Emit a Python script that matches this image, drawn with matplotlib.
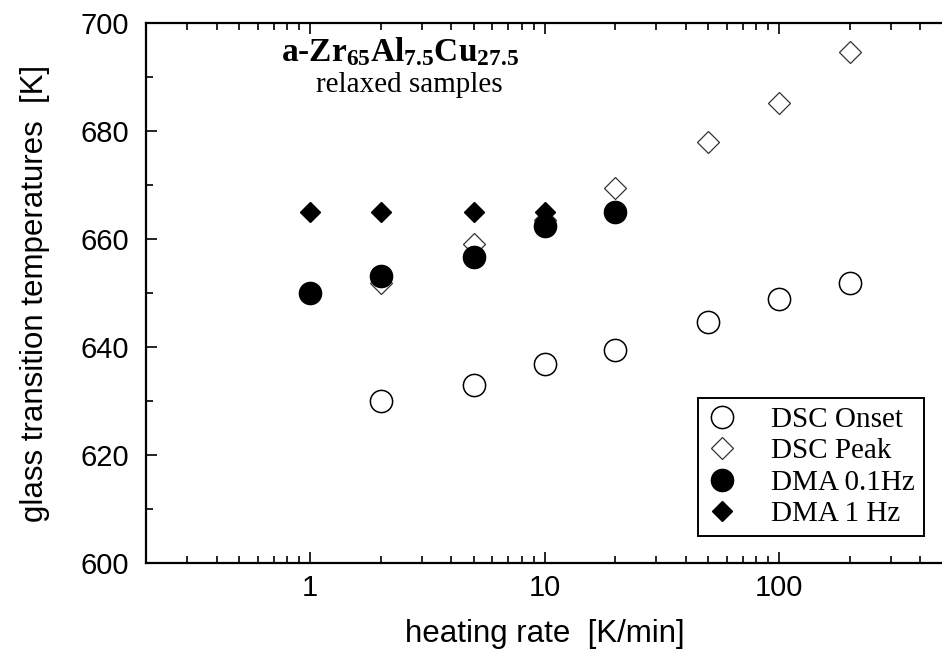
import matplotlib
matplotlib.use("Agg")
import matplotlib.pyplot as plt
from matplotlib.ticker import FixedLocator, LogLocator, NullFormatter, FixedFormatter

# ---- data ----
rate_onset = [2, 5, 10, 20, 50, 100, 200]
dsc_onset = [630.0, 633.0, 636.8, 639.4, 644.6, 648.8, 651.8]

rate_peak = [2, 5, 10, 20, 50, 100, 200]
dsc_peak = [651.8, 659.0, 663.5, 669.5, 678.0, 685.2, 694.6]

rate_dma01 = [1, 2, 5, 10, 20]
dma_01hz = [650.0, 653.2, 656.6, 662.4, 665.0]

rate_dma1 = [1, 2, 5, 10]
dma_1hz = [665.0, 665.0, 665.0, 665.0]

xticks = [1, 10, 100]
xticklabels = ["1", "10", "100"]
yticks = [600, 620, 640, 660, 680, 700]

plt.rcParams['font.family'] = ['Liberation Sans', 'DejaVu Sans']
plt.rcParams['mathtext.fontset'] = 'custom'
plt.rcParams['mathtext.default'] = 'regular'
plt.rcParams['mathtext.rm'] = 'Liberation Serif:bold'
plt.rcParams['mathtext.bf'] = 'Liberation Serif:bold'

fig = plt.figure(figsize=(9.42, 6.57), dpi=100)
W, H = 942, 657
ax = fig.add_axes([146 / W, (H - 563) / H, (943 - 146) / W, (563 - 23) / H])

ax.plot(rate_onset, dsc_onset, linestyle='none', marker='o', markersize=16,
        markerfacecolor='white', markeredgecolor='black', markeredgewidth=1.1,
        label='DSC Onset')
ax.plot(rate_peak, dsc_peak, linestyle='none', marker='D', markersize=11,
        markerfacecolor='white', markeredgecolor='#333333', markeredgewidth=0.9,
        label='DSC Peak')
ax.plot(rate_dma01, dma_01hz, linestyle='none', marker='o', markersize=16,
        markerfacecolor='black', markeredgecolor='black',
        label='DMA 0.1Hz')
ax.plot(rate_dma1, dma_1hz, linestyle='none', marker='D', markersize=10.5,
        markerfacecolor='black', markeredgecolor='black',
        label='DMA 1 Hz')

ax.set_xscale('log')
ax.set_xlim(0.2, 500)
ax.set_ylim(600, 700)

ax.xaxis.set_major_locator(FixedLocator(xticks))
ax.xaxis.set_major_formatter(FixedFormatter(xticklabels))
ax.xaxis.set_minor_locator(LogLocator(base=10, subs=range(2, 10)))
ax.xaxis.set_minor_formatter(NullFormatter())
ax.yaxis.set_major_locator(FixedLocator(yticks))
ax.yaxis.set_minor_locator(FixedLocator(list(range(600, 701, 10))))

ax.tick_params(which='both', direction='in', top=True, right=False,
               labelsize=21, width=1.2)
ax.tick_params(axis='y', pad=12)
ax.tick_params(axis='x', pad=8)
ax.tick_params(which='major', length=8)
ax.tick_params(which='minor', length=5)
for s in ax.spines.values():
    s.set_linewidth(1.6)

ax.set_xlabel('heating rate  [K/min]', fontsize=22.5, labelpad=12)
ax.set_ylabel('glass transition temperatures  [K]', fontsize=22.5, labelpad=22)

ax.text(0.17, 0.93, r'a-Zr$_{65}$Al$_{7.5}$Cu$_{27.5}$', transform=ax.transAxes,
        fontsize=24, fontweight='bold', family='Liberation Serif', va='baseline')
ax.text(0.213, 0.872, 'relaxed samples', transform=ax.transAxes,
        fontsize=21, family='Liberation Serif', va='baseline')

leg = ax.legend(loc='lower right', bbox_to_anchor=(0.976, 0.05),
                borderaxespad=0, frameon=True, fancybox=False,
                prop={'family': 'Liberation Serif', 'size': 21},
                handletextpad=1.2, labelspacing=0.17, borderpad=0.3,
                handlelength=1.0)
leg.get_frame().set_edgecolor('black')
leg.get_frame().set_linewidth(1.4)
leg.get_frame().set_alpha(1)

fig.savefig('out.png', dpi=100)
